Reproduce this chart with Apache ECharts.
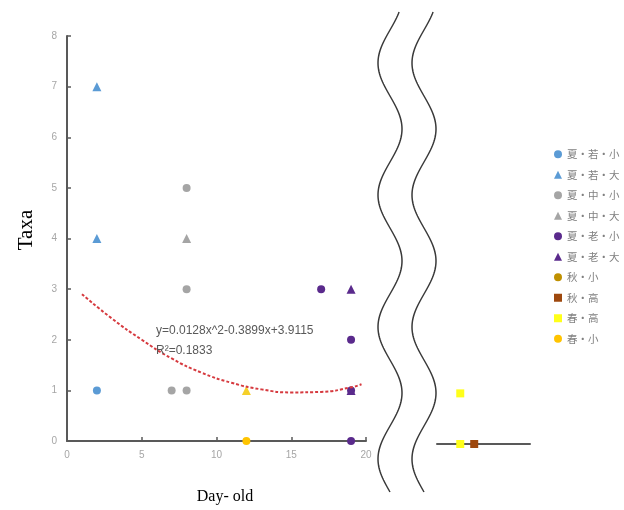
<!DOCTYPE html>
<html>
<head>
<meta charset="utf-8">
<script src="https://cdn.jsdelivr.net/npm/echarts@6/dist/echarts.min.js"></script>
<style>
  html, body { margin: 0; padding: 0; background: #fff; }
  #chart { width: 624px; height: 510px; }
</style>
</head>
<body>
<div id="chart"></div>
<script>
// Series names (legend order)
const seriesNames = ['夏・若・小', '夏・若・大', '夏・中・小', '夏・中・大', '夏・老・小', '夏・老・大', '秋・小', '秋・高', '春・高', '春・小'];

// Points on the main Day-old axis, [day, taxa]
const summerYoungSmall = [[2, 1]];
const summerYoungLarge = [[2, 7], [2, 4]];
const summerMidSmall = [[8, 5], [8, 3], [7, 1], [8, 1]];
const summerMidLarge = [[8, 4]];
const summerOldSmall = [[17, 3], [19, 2], [19, 1], [19, 0]];
const summerOldLarge = [[19, 3], [19, 1]];
const springSmall = [[12, 0]];
const springSmallTriangle = [[12, 1]];

// Points beyond the axis break (relative position on the far segment)
const autumnSmall = [];
const autumnHigh = [[40, 0]];
const springHigh = [[25, 1], [25, 0]];

// Dashed trend curve
const trendX = [1, 3, 5, 7, 9, 11, 13, 15, 17, 19, 19.7];
const trendY = [2.9, 2.42, 2.0, 1.63, 1.35, 1.15, 1.02, 0.96, 0.97, 1.06, 1.12];

const eqLine1 = 'y=0.0128x^2-0.3899x+3.9115';
const eqLine2 = 'R²=0.1833';

const colors = {
  blue: '#5B9BD5', gray: '#A5A5A5', purple: '#5A2A8C',
  autumnSmall: '#BF9000', autumnHigh: '#9E480E',
  springHigh: '#FFFF1A', springSmall: '#FFC400', springTri: '#F5D02A'
};

const chart = echarts.init(document.getElementById('chart'), null, { renderer: 'canvas' });

// Wavy break lines
function wave(cx) {
  const pts = [];
  for (let y = 12; y <= 492; y += 2) {
    pts.push([cx - 12 * Math.cos(2 * Math.PI * (y - 63) / 132), y]);
  }
  return pts;
}

const tickLabel = { color: '#A6A6A6', fontSize: 10, fontFamily: 'Liberation Sans' };

function scatter(name, data, symbol, color, size, gridIdx) {
  return {
    name, type: 'scatter', data, symbol, symbolSize: size,
    xAxisIndex: gridIdx, yAxisIndex: gridIdx,
    itemStyle: { color, opacity: 1 }, z: 3
  };
}

const springSmallData = springSmall.map(v => v).concat(
  springSmallTriangle.map(v => ({ value: v, symbol: 'triangle', symbolSize: 9, itemStyle: { color: colors.springTri } }))
);

chart.setOption({
  animation: false,
  backgroundColor: '#fff',
  grid: [
    { left: 67, right: 258, top: 36, bottom: 69 },
    { left: 437, right: 94, top: 39, bottom: 66 }
  ],
  xAxis: [
    {
      type: 'value', gridIndex: 0, min: 0, max: 20, interval: 5,
      axisLine: { show: true, lineStyle: { color: '#595959', width: 2 } },
      axisTick: { show: true, inside: true, length: 4, lineStyle: { color: '#595959', width: 1.5 } },
      axisLabel: Object.assign({ margin: 9 }, tickLabel),
      splitLine: { show: false }
    },
    {
      type: 'value', gridIndex: 1, min: 0, max: 100,
      axisLine: { show: true, lineStyle: { color: '#595959', width: 2 } },
      axisTick: { show: false }, axisLabel: { show: false }, splitLine: { show: false }
    }
  ],
  yAxis: [
    {
      type: 'value', gridIndex: 0, min: 0, max: 8, interval: 1,
      axisLine: { show: true, lineStyle: { color: '#595959', width: 2 } },
      axisTick: { show: true, inside: true, length: 4, lineStyle: { color: '#595959', width: 1.5 } },
      axisLabel: Object.assign({ margin: 10 }, tickLabel),
      splitLine: { show: false }
    },
    {
      type: 'value', gridIndex: 1, min: 0, max: 8, show: false
    }
  ],
  legend: {
    orient: 'vertical', left: 549, top: 144,
    itemWidth: 8, itemHeight: 8, itemGap: 10,
    data: seriesNames,
    textStyle: { color: '#7F7F7F', fontSize: 10.5, fontFamily: 'Noto Sans CJK SC' }
  },
  series: [
    scatter(seriesNames[0], summerYoungSmall, 'circle', colors.blue, 8, 0),
    scatter(seriesNames[1], summerYoungLarge, 'triangle', colors.blue, 9, 0),
    scatter(seriesNames[2], summerMidSmall, 'circle', colors.gray, 8, 0),
    scatter(seriesNames[3], summerMidLarge, 'triangle', colors.gray, 9, 0),
    scatter(seriesNames[4], summerOldSmall, 'circle', colors.purple, 8, 0),
    scatter(seriesNames[5], summerOldLarge, 'triangle', colors.purple, 9, 0),
    scatter(seriesNames[6], autumnSmall, 'circle', colors.autumnSmall, 8, 1),
    scatter(seriesNames[7], autumnHigh, 'rect', colors.autumnHigh, 8, 1),
    scatter(seriesNames[8], springHigh, 'rect', colors.springHigh, 8, 1),
    scatter(seriesNames[9], springSmallData, 'circle', colors.springSmall, 8, 0),
    {
      name: 'trend', type: 'line', xAxisIndex: 0, yAxisIndex: 0,
      data: trendX.map((x, i) => [x, trendY[i]]),
      smooth: true, symbol: 'none', z: 4,
      lineStyle: { color: '#D63A3F', width: 2, type: [3, 2] }
    }
  ],
  graphic: [
    { type: 'polyline', shape: { points: wave(390) }, style: { stroke: '#3A3A3A', lineWidth: 1.5, fill: null } },
    { type: 'polyline', shape: { points: wave(424) }, style: { stroke: '#3A3A3A', lineWidth: 1.5, fill: null } },
    {
      type: 'text', left: 156, top: 321, z: 10,
      style: { text: eqLine1 + '\n' + eqLine2, fill: '#595959', font: '12px "Liberation Sans"', lineHeight: 20 }
    },
    {
      type: 'text', x: 26, y: 230, rotation: Math.PI / 2,
      style: { text: 'Taxa', fill: '#000', font: '21px "Liberation Serif"', align: 'center', verticalAlign: 'middle' }
    },
    {
      type: 'text', x: 225, y: 497,
      style: { text: 'Day- old', fill: '#000', font: '16px "Liberation Serif"', align: 'center', verticalAlign: 'middle' }
    }
  ]
});
</script>
</body>
</html>
